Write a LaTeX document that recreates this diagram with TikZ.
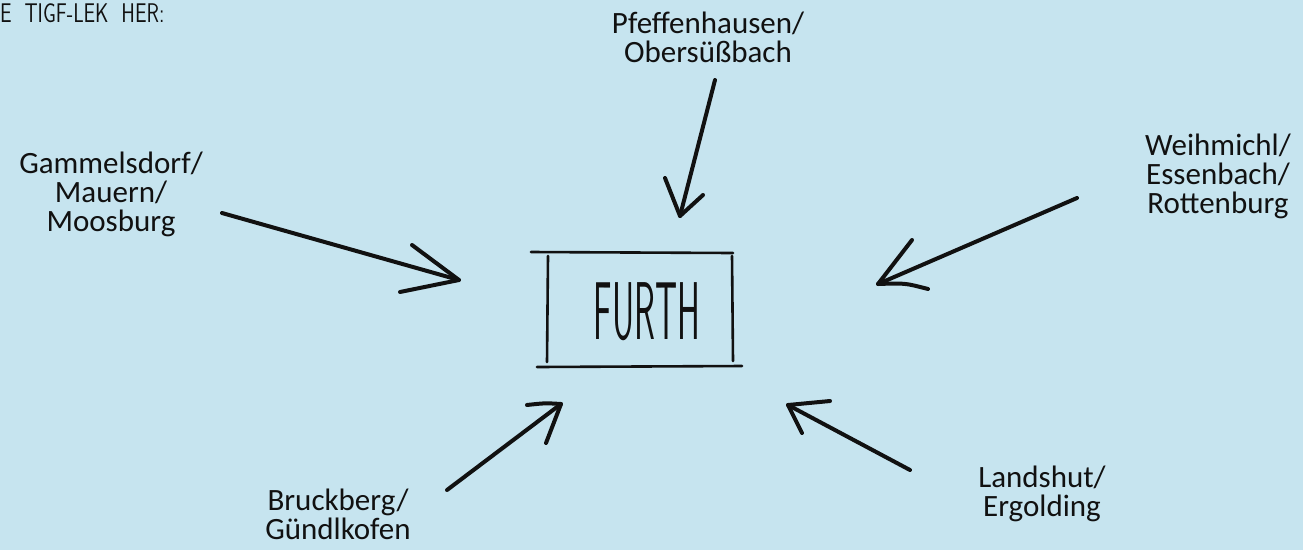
\documentclass[tikz,border=0pt]{standalone}
\usepackage{fontspec}
\setmainfont{Carlito}
\usepackage{graphicx}
\definecolor{bg}{HTML}{C6E4EF}
\definecolor{ink}{HTML}{111111}
\tikzset{
  place/.style={font=\fontsize{31}{29}\selectfont, align=center, inner sep=0pt, text=ink},
  stroke/.style={draw=ink, line width=4pt, line cap=round, line join=round},
  boxline/.style={draw=ink, line width=2.6pt, line cap=round},
}
\begin{document}
\begin{tikzpicture}[x=1pt,y=-1pt]
\fill[bg] (0,0) rectangle (1303,550);
\useasboundingbox (0,0) rectangle (1303,550);

% heading
\node[anchor=west, inner sep=0pt, text=ink] (head) at (0,13)
  {\scalebox{0.76}[1]{\sffamily\fontsize{27}{27}\selectfont E\ \ TIGF-LEK\ \ HER:}};

% centre
\node[inner sep=0pt, text=ink] (furth) at (647,312)
  {\scalebox{0.42}[1]{\sffamily\fontsize{82}{82}\selectfont FURTH}};
\coordinate (bt1) at (531,252); \coordinate (bt2) at (733,253);
\coordinate (bb1) at (537,367); \coordinate (bb2) at (742,366);
\coordinate (bl1) at (548,256); \coordinate (bl2) at (547,362);
\coordinate (br1) at (732,256); \coordinate (br2) at (733,361);
\draw[boxline] (bt1) -- (bt2);
\draw[boxline] (bb1) -- (bb2);
\draw[boxline] (bl1) -- (bl2);
\draw[boxline] (br1) -- (br2);

% places
\node[place] (pf) at (708,37) {Pfeffenhausen/\\Obersüßbach};
\node[place] (ga) at (111,194) {Gammelsdorf/\\Mauern/\\Moosburg};
\node[place] (we) at (1218,176) {Weihmichl/\\Essenbach/\\Rottenburg};
\node[place] (br) at (338,514) {Bruckberg/\\Gündlkofen};
\node[place] (la) at (1042,494) {Landshut/\\Ergolding};

% arrow: Gammelsdorf
\coordinate (gaT) at (222,213); \coordinate (gaP) at (459,280);
\coordinate (gaA) at (412,245); \coordinate (gaB) at (400,292);
\draw[stroke] (gaT) -- (gaP);
\draw[stroke] (gaA) -- (gaP) -- (gaB);

% arrow: Pfeffenhausen
\coordinate (pfT) at (715,80); \coordinate (pfP) at (680,216);
\coordinate (pfA) at (665,178); \coordinate (pfB) at (703,195);
\draw[stroke] (pfT) -- (pfP);
\draw[stroke] (pfA) -- (pfP) -- (pfB);

% arrow: Weihmichl
\coordinate (weT) at (1077,198); \coordinate (weP) at (878,284);
\coordinate (weA) at (912,240); \coordinate (weB) at (928,289);
\draw[stroke] (weT) -- (weP);
\draw[stroke] (weA) -- (weP) .. controls (905,283) .. (weB);

% arrow: Bruckberg
\coordinate (brT) at (447,490); \coordinate (brP) at (561,404);
\coordinate (brA) at (527,405); \coordinate (brB) at (546,443);
\draw[stroke] (brT) -- (brP);
\draw[stroke] (brA) .. controls (545,403) .. (brP) -- (brB);

% arrow: Landshut
\coordinate (laT) at (910,470); \coordinate (laP) at (788,405);
\coordinate (laA) at (830,401); \coordinate (laB) at (802,433);
\draw[stroke] (laT) -- (laP);
\draw[stroke] (laA) -- (laP) -- (laB);
\end{tikzpicture}
\end{document}
